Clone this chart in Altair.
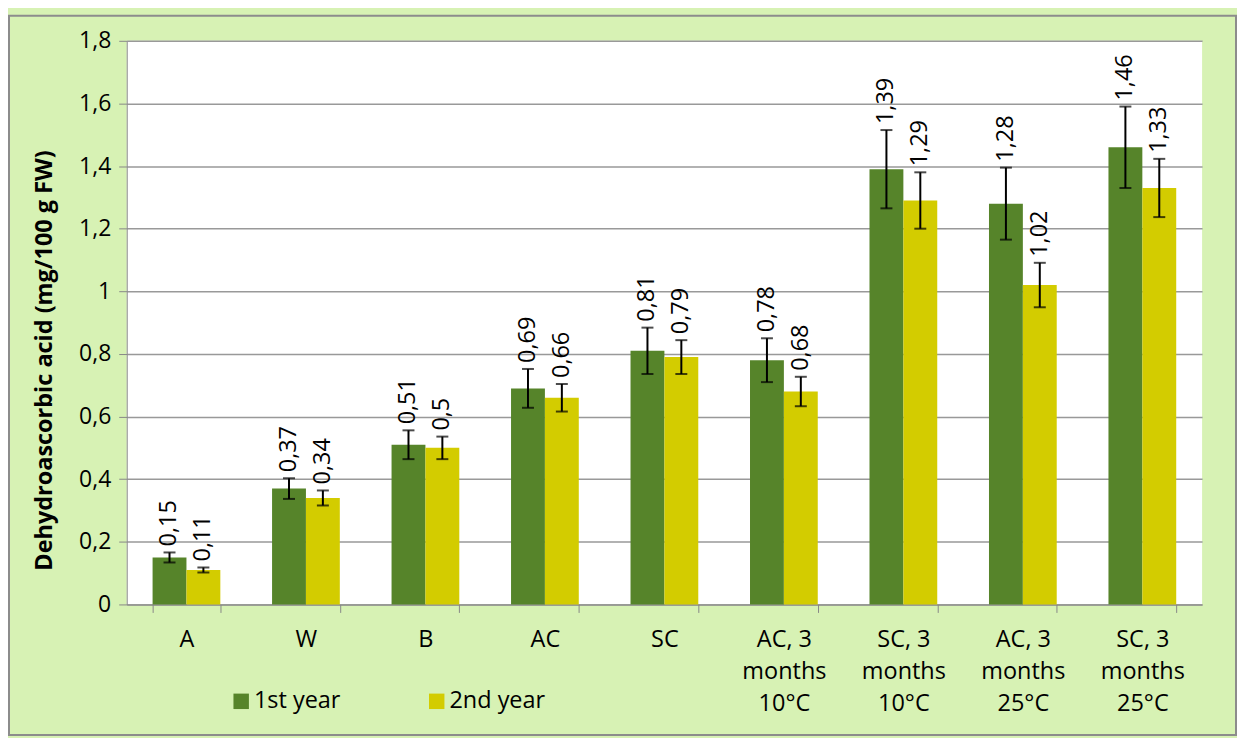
import altair as alt
import pandas as pd

categories = ["A", "W", "B", "AC", "SC",
              "AC, 3|months|10°C", "SC, 3|months|10°C",
              "AC, 3|months|25°C", "SC, 3|months|25°C"]
series = ["1st year", "2nd year"]
year1 = [0.15, 0.37, 0.51, 0.69, 0.81, 0.78, 1.39, 1.28, 1.46]
year2 = [0.11, 0.34, 0.50, 0.66, 0.79, 0.68, 1.29, 1.02, 1.33]
err1 = [0.016, 0.033, 0.046, 0.062, 0.074, 0.070, 0.125, 0.115, 0.13]
err2 = [0.008, 0.024, 0.036, 0.044, 0.054, 0.047, 0.09, 0.071, 0.093]
y_ticks = [0, 0.2, 0.4, 0.6, 0.8, 1.0, 1.2, 1.4, 1.6, 1.8]

rows = []
for i, c in enumerate(categories):
    for s, v, e in ((series[0], year1[i], err1[i]), (series[1], year2[i], err2[i])):
        rows.append({"cat": c, "year": s, "value": v, "lo": v - e, "hi": v + e,
                     "label": f"{v:g}".replace(".", ",")})
df = pd.DataFrame(rows)

FONT = "Open Sans"
GREEN = "#56842a"
YELLOW = "#d3cc00"
W, H = 1078, 565

x_enc = alt.X("cat:N", sort=categories, title=None,
              scale=alt.Scale(paddingInner=0.433, paddingOuter=0.2165),
              axis=alt.Axis(labelExpr="split(datum.label, '|')", labelAngle=0,
                            labelFontSize=23.5, labelLineHeight=32, labelPadding=15,
                            labelBaseline="top", tickBand="extent", tickSize=8,
                            tickColor="#888888", domainColor="#888888",
                            labelColor="#000000", labelFont=FONT, grid=False))
xoff = alt.XOffset("year:N", sort=series)
y_scale = alt.Scale(domain=[0, 1.8], nice=False)

base = alt.Chart(df)

bars = base.mark_bar().encode(
    x=x_enc,
    xOffset=xoff,
    y=alt.Y("value:Q", scale=y_scale,
            title="Dehydroascorbic acid (mg/100 g FW)",
            axis=alt.Axis(values=y_ticks,
                          labelExpr="replace(format(datum.value, '.1~f'), '.', ',')",
                          labelFontSize=23, labelFont=FONT, labelColor="#000000",
                          labelPadding=8, tickSize=8, tickColor="#888888",
                          domainColor="#888888", gridColor="#999999", gridWidth=1.5,
                          titleFont=FONT, titleFontSize=23.5, titleFontWeight="bold",
                          titleColor="#000000", titleX=-70, titleY=320,
                          titleAngle=270, titleAlign="center")),
    color=alt.Color("year:N", sort=series,
                    scale=alt.Scale(domain=series, range=[GREEN, YELLOW]),
                    legend=alt.Legend(title=None, orient="none", direction="horizontal",
                                      legendX=103, legendY=650, symbolType="square",
                                      symbolSize=240, symbolStrokeWidth=0,
                                      labelFontSize=23.5, labelFont=FONT,
                                      labelColor="#000000", columnPadding=84,
                                      labelOffset=1)),
)

rules = base.mark_rule(color="#000000", strokeWidth=2).encode(
    x=alt.X("cat:N", sort=categories), xOffset=xoff,
    y=alt.Y("lo:Q", scale=y_scale), y2="hi:Q")

cap_lo = base.mark_tick(color="#000000", thickness=2, size=12).encode(
    x=alt.X("cat:N", sort=categories), xOffset=xoff,
    y=alt.Y("lo:Q", scale=y_scale))
cap_hi = base.mark_tick(color="#000000", thickness=2, size=12).encode(
    x=alt.X("cat:N", sort=categories), xOffset=xoff,
    y=alt.Y("hi:Q", scale=y_scale))

labels = base.mark_text(angle=270, align="left", baseline="middle", dx=6,
                        fontSize=23.5, font=FONT, color="#000000").encode(
    x=alt.X("cat:N", sort=categories), xOffset=xoff,
    y=alt.Y("hi:Q", scale=y_scale), text="label:N")

frame = alt.Chart(pd.DataFrame({"f": [0]})).mark_rect(
    fill=None, stroke="#8c8c8c", strokeWidth=2, clip=False).encode(
    x=alt.value(-118), x2=alt.value(W + 34),
    y=alt.value(-25), y2=alt.value(H + 131))

chart = alt.layer(bars, rules, cap_lo, cap_hi, labels, frame).properties(
    width=W, height=H,
    autosize=alt.AutoSizeParams(type="none"),
    padding={"left": 119, "top": 32, "right": 35, "bottom": 133},
    background="#d7f2b4",
).configure_view(fill="#ffffff", stroke=None)

chart.save("out.html", embed_options={"renderer": "svg", "actions": False})
